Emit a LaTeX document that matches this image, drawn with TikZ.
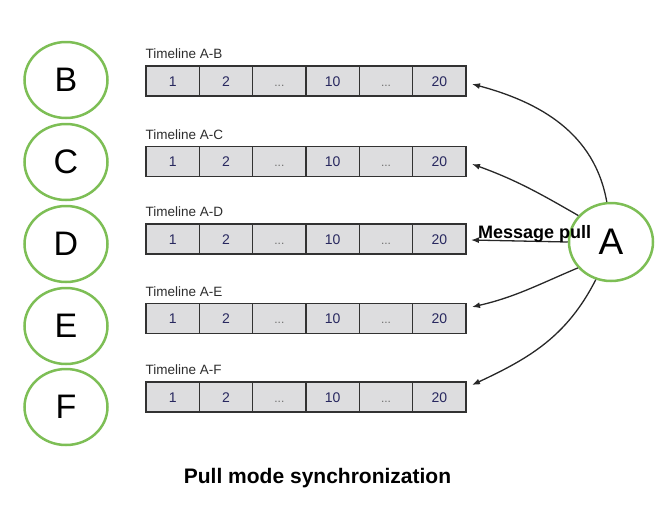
\documentclass[tikz,border=0pt]{standalone}
\usepackage{fontspec}
\setmainfont{Liberation Sans}
\usetikzlibrary{shapes.geometric,arrows.meta}
\definecolor{grn}{RGB}{125,190,85}
\definecolor{cellfill}{RGB}{221,221,223}
\definecolor{cellline}{RGB}{50,50,50}
\definecolor{numcol}{RGB}{40,40,95}
\definecolor{dotcol}{RGB}{110,110,110}
\definecolor{lblcol}{RGB}{45,45,45}
\definecolor{arrcol}{RGB}{40,40,40}
\begin{document}
\begin{tikzpicture}[x=1pt,y=1pt,
  peer/.style={ellipse,draw=grn,line width=2.5pt,minimum width=83pt,minimum height=76pt,inner sep=0pt,font=\fontsize{34}{36}\selectfont},
  cell/.style={rectangle,draw=cellline,fill=cellfill,line width=1.1pt,minimum width=53.33pt,minimum height=30pt,inner sep=0pt,text height=10pt,text depth=-2pt,font=\fontsize{14}{16}\selectfont,text=numcol},
  dotcell/.style={cell,font=\fontsize{12}{14}\selectfont,text=dotcol},
  lbl/.style={anchor=base west,inner sep=0pt,font=\fontsize{13.5}{15}\selectfont,text=lblcol},
  conn/.style={draw=arrcol,line width=1.3pt,-{Latex[length=8pt,width=6pt]}}
]
\useasboundingbox (0,0) rectangle (670,-512);

% peers
\node[peer] (B) at (66,-80) {B};
\node[peer] (C) at (66,-162) {C};
\node[peer] (D) at (66,-244) {D};
\node[peer] (E) at (66,-326) {E};
\node[peer] (F) at (66,-407) {F};
\node[peer,minimum width=84pt,minimum height=78pt,font=\fontsize{37}{40}\selectfont] (A) at (611,-242) {A};

% timelines
\foreach \r/\y in {B/81,C/161.5,D/239,E/318.5,F/397}{
  \node[lbl] (lbl\r) at (145.5,-\y+22.5) {Timeline A-\r};
  \node[cell] (\r1) at (146+26.67,-\y) {1};
  \node[cell] (\r2) at (146+80,-\y) {2};
  \node[dotcell] (\r3) at (146+133.33,-\y) {...};
  \node[cell] (\r4) at (146+186.67,-\y) {10};
  \node[dotcell] (\r5) at (146+240,-\y) {...};
  \node[cell] (\r6) at (146+293.33,-\y) {20};
}

% arrow targets
\coordinate (tB) at (472,-84);
\coordinate (tC) at (472,-164);
\coordinate (tD) at (471,-240);
\coordinate (tE) at (472,-307);
\coordinate (tF) at (472,-385);

\draw[conn] (A.96) to[out=100,in=-15] (tB);
\draw[conn] (A.141) to[out=150,in=-20] (tC);
\draw[conn] (A.180) -- (tD);
\draw[conn] (A.218) to[out=203,in=13] (tE);
\draw[conn] (A.248) to[out=243,in=25] (tF);

\node[anchor=base west,inner sep=0pt,font=\bfseries\fontsize{18}{20}\selectfont] (msg) at (478,-238) {Message pull};

\node[anchor=base,inner sep=0pt,font=\bfseries\fontsize{21}{24}\selectfont] (title) at (317.5,-483) {Pull mode synchronization};
\end{tikzpicture}
\end{document}
